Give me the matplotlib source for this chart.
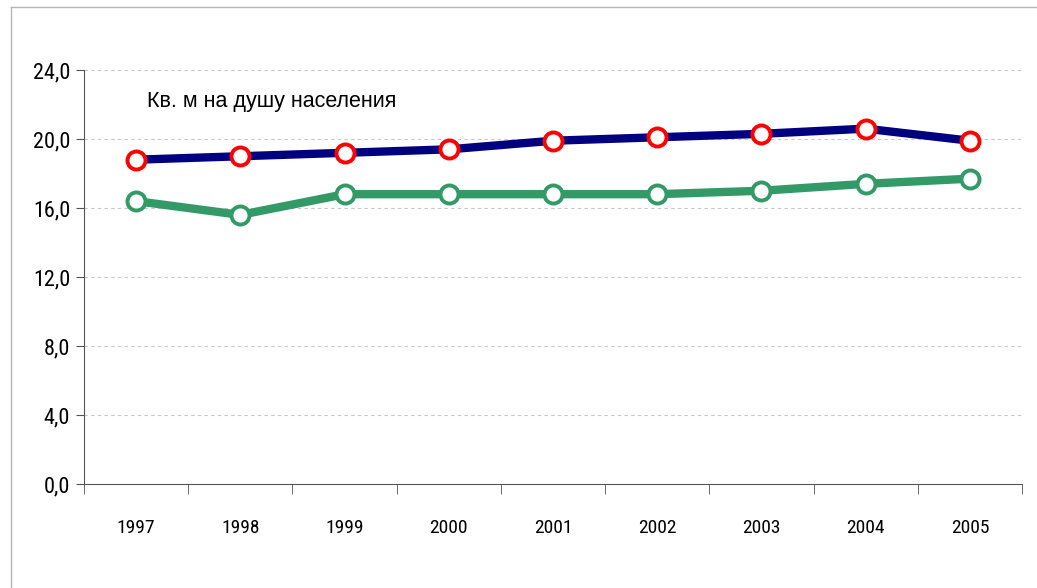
import matplotlib.pyplot as plt
import matplotlib.lines as mlines
from matplotlib import font_manager
import numpy as np

# data
years = ["1997", "1998", "1999", "2000", "2001", "2002", "2003", "2004", "2005"]
blue_vals = [18.8, 19.0, 19.2, 19.4, 19.9, 20.1, 20.3, 20.6, 19.9]
green_vals = [16.4, 15.6, 16.8, 16.8, 16.8, 16.8, 17.0, 17.4, 17.7]
y_ticks = [0, 4, 8, 12, 16, 20, 24]
y_labels = ["0,0", "4,0", "8,0", "12,0", "16,0", "20,0", "24,0"]
title_text = "Кв. м на душу населения"

# narrow font for the tick labels, if the system has one
names = {f.name for f in font_manager.fontManager.ttflist}
print([n for n in sorted(names)])
narrow = None
for cand in ["Liberation Sans Narrow", "DejaVu Sans Condensed", "Roboto Condensed", "Open Sans Condensed"]:
    if cand in names:
        narrow = cand
        break
print("narrow:", narrow)

plt.rcParams['font.family'] = ['Liberation Sans', 'DejaVu Sans']

fig = plt.figure(figsize=(10.37, 5.88), dpi=100)
ax = fig.add_axes([84/1037, 1 - 484/588, (1022-84)/1037, (484-70)/588])

x = np.arange(len(years))

# outer frame lines (top and left)
fig.add_artist(mlines.Line2D([11/1037, 1], [1 - 7/588, 1 - 7/588], color="#b5b5b5", lw=1))
fig.add_artist(mlines.Line2D([11/1037, 11/1037], [0, 1 - 7/588], color="#b5b5b5", lw=1))

ax.plot(x, blue_vals, color="#000080", lw=6, solid_capstyle="butt", zorder=3)
ax.plot(x, blue_vals, ls="none", marker="o", ms=13, mfc="white", mec="#ff0000", mew=2.8, zorder=4)
ax.plot(x, green_vals, color="#339966", lw=6, solid_capstyle="butt", zorder=3)
ax.plot(x, green_vals, ls="none", marker="o", ms=13, mfc="white", mec="#339966", mew=2.8, zorder=4)

ax.set_xlim(-0.5, len(years) - 0.5)
ax.set_ylim(0, 24)
ax.set_yticks(y_ticks)
ax.set_xticks(x)
if narrow:
    ax.set_yticklabels(y_labels, fontsize=16, family=narrow)
    ax.set_xticklabels(years, fontsize=14, family=narrow)
else:
    ax.set_yticklabels(y_labels, fontsize=15)
    ax.set_xticklabels(years, fontsize=12)
ax.set_xticks(np.arange(len(years) + 1) - 0.5, minor=True)
ax.tick_params(axis="x", which="major", length=0, pad=25)
ax.tick_params(axis="x", which="minor", length=7, color="#555555", direction="out")
ax.tick_params(axis="y", length=6, color="#555555", pad=4)

for t in y_ticks[1:]:
    ax.axhline(t, color="#c8c8c8", lw=0.8, ls=(0, (3, 3)), zorder=1)

for s in ["top", "right"]:
    ax.spines[s].set_visible(False)
ax.spines["left"].set_color("#555555")
ax.spines["bottom"].set_color("#555555")

ax.text(0.1, 22.2, title_text, fontsize=15.5, ha="left", va="center")

fig.savefig("out.png", dpi=100)
